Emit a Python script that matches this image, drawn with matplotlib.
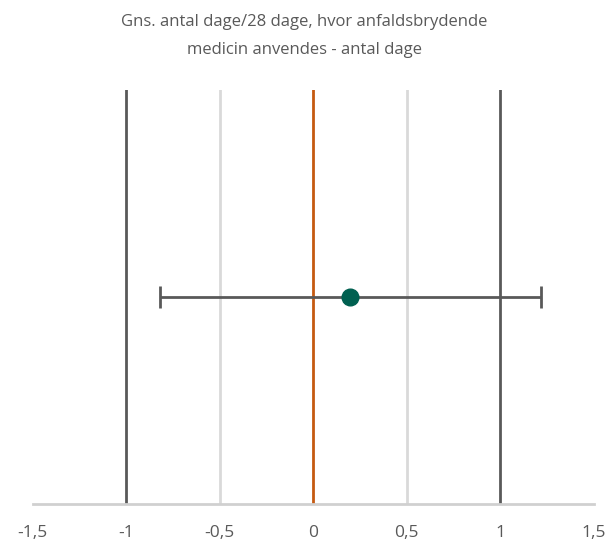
import matplotlib
matplotlib.use("Agg")
import matplotlib.pyplot as plt

# data
estimate = [0.2]
ci_low = [-0.82]
ci_high = [1.22]
ref_dark = [-1, 1]
ref_light = [-0.5, 0.5]
ref_zero = [0]
ticks = [-1.5, -1, -0.5, 0, 0.5, 1, 1.5]
tick_labels = ["-1,5", "-1", "-0,5", "0", "0,5", "1", "1,5"]
title = "Gns. antal dage/28 dage, hvor anfaldsbrydende\nmedicin anvendes - antal dage"

plt.rcParams['font.family'] = ['Open Sans', 'DejaVu Sans']

fig = plt.figure(figsize=(6.09, 5.46), dpi=100)
ax = fig.add_axes([32.5 / 609, 1 - 504 / 546, 561 / 609, 414 / 546])

for x in ref_light:
    ax.axvline(x, color='#d9d9d9', lw=2, zorder=1)
for x in ref_dark:
    ax.axvline(x, color='#595959', lw=2, zorder=1)
for x in ref_zero:
    ax.axvline(x, color='#c55a11', lw=2, zorder=1)

y = [0.5]
err = [[e - l for e, l in zip(estimate, ci_low)], [h - e for e, h in zip(estimate, ci_high)]]
ax.errorbar(estimate, y, xerr=err, fmt='none', ecolor='#595959', elinewidth=2,
            capsize=8, capthick=2, zorder=2)
ax.plot(estimate, y, 'o', color='#006050', ms=12, zorder=3)

ax.set_xlim(-1.5, 1.5)
ax.set_ylim(0, 1)
ax.set_xticks(ticks)
ax.set_xticklabels(tick_labels, fontsize=12.5, color='#595959')
ax.tick_params(axis='x', length=0, pad=15)
ax.set_yticks([])
for s in ['top', 'left', 'right']:
    ax.spines[s].set_visible(False)
ax.spines['bottom'].set_color('#d0d0d0')
ax.spines['bottom'].set_linewidth(2)
ax.spines['bottom'].set_zorder(4)

fig.text(0.5, 1 - 36 / 546, title, ha='center', va='center', fontsize=12,
         color='#595959', linespacing=2.0)

fig.savefig('out.png', dpi=100)
